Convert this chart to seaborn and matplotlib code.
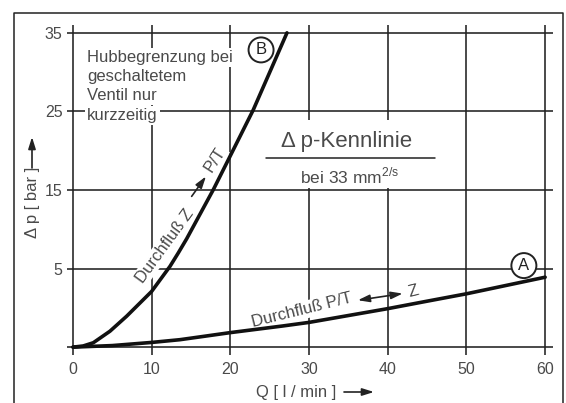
import numpy as np
import pandas as pd
import matplotlib.pyplot as plt
import seaborn as sns
from matplotlib.lines import Line2D
from matplotlib.patches import Rectangle

# -----------------------------
# Data (Q in l/min, Δp in bar as labelled)
# -----------------------------
q_b = [0, 1.3, 2.58, 4.7, 6.82, 10.0, 12.33, 13.38, 14.45, 17.83, 19.95, 22.91, 27.19]
dp_b = [-5, -4.85, -4.44, -2.97, -1.06, 2.1, 5.29, 6.99, 8.8, 15.04, 19.27, 25.2, 35.0]

q_a = [0, 5, 10, 13.6, 16.1, 20, 26.7, 30, 40, 45, 50, 60]
dp_a = [-5, -4.8, -4.4, -4.05, -3.7, -3.15, -2.3, -1.85, -0.1, 0.85, 1.79, 3.9]

x_ticks = [0, 10, 20, 30, 40, 50, 60]
y_ticks = [-5, 5, 15, 25, 35]
y_tick_labels = ["", "5", "15", "25", "35"]

note_lines = ["Hubbegrenzung bei", "geschaltetem", "Ventil nur", "kurzzeitig"]
note_baselines = [31.27, 28.91, 26.41, 23.95]

# -----------------------------
# Style
# -----------------------------
sns.set_style("white")
plt.rcParams["font.family"] = ["Liberation Sans", "DejaVu Sans"]
plt.rcParams["mathtext.fontset"] = "custom"
plt.rcParams["mathtext.rm"] = "Liberation Sans"

INK = "#222222"
TXT = "#4a4a4a"
W, H = 566, 403

fig = plt.figure(figsize=(W / 100, H / 100), dpi=100)
ax = fig.add_axes([66.7 / W, 48 / H, (553 - 66.7) / W, 330 / H])

df_b = pd.DataFrame({"Q": q_b, "dp": dp_b})
df_a = pd.DataFrame({"Q": q_a, "dp": dp_a})
sns.lineplot(data=df_b, x="Q", y="dp", color="#111111", lw=2.6, ax=ax, zorder=5)
sns.lineplot(data=df_a, x="Q", y="dp", color="#111111", lw=2.6, ax=ax, zorder=5)

ax.set_xlim(-0.8, 61)
ax.set_ylim(-6, 36)
ax.set_xticks(x_ticks)
ax.set_yticks(y_ticks)
ax.set_yticklabels(y_tick_labels)
ax.grid(True, color=INK, lw=1.15)
ax.set_axisbelow(True)
for s in ax.spines.values():
    s.set_visible(False)
ax.tick_params(length=0, labelsize=11.5, labelcolor=TXT)
ax.tick_params(axis="y", pad=3)
ax.tick_params(axis="x", pad=5)
ax.set_xlabel("")
ax.set_ylabel("")

# note in the upper left
box = dict(fc="white", ec="none", pad=1.5)
for line, yb in zip(note_lines, note_baselines):
    ax.text(1.78, yb, line, ha="left", va="baseline", fontsize=12,
            color=TXT, bbox=box, zorder=3)

# circled curve names
circ = dict(boxstyle="circle,pad=0.3", fc="white", ec=INK, lw=1.4)
ax.text(23.9, 32.83, "B", ha="center", va="center", fontsize=12, color=INK, bbox=circ, zorder=6)
ax.text(57.3, 5.38, "A", ha="center", va="center", fontsize=12, color=INK, bbox=circ, zorder=6)

# title block
ax.add_patch(Rectangle((24.0, 15.3), 22.6, 8.6, fc="white", ec="none", zorder=2.5))
ax.text(34.8, 21.14, "Δ p-Kennlinie", ha="center", va="center", fontsize=16, color=TXT, zorder=3)
ax.plot([24.5, 46.0], [19.1, 19.1], color=INK, lw=1.1, zorder=3)
ax.text(35.1, 16.82, r"bei 33 mm$^{\mathrm{2/s}}$", ha="center", va="center",
        fontsize=12.5, color=TXT, zorder=3)

# curve labels
arrow = dict(arrowstyle="-|>,head_length=0.7,head_width=0.22", color=INK, lw=1.2,
             shrinkA=0, shrinkB=0)
wbox = dict(fc="white", ec="none", pad=1)
ax.text(11.69, 7.92, "Durchfluß Z", rotation=54, rotation_mode="anchor", ha="center",
        va="center", fontsize=12, color=TXT, bbox=wbox, zorder=3)
ax.annotate("", xy=(16.9, 16.73), xytext=(15.08, 14.19), arrowprops=arrow, zorder=3)
ax.text(18.04, 18.85, "P/T", rotation=57, rotation_mode="anchor", ha="center",
        va="center", fontsize=12, color=TXT, bbox=wbox, zorder=3)

ax.text(29.1, -0.34, "Durchfluß P/T", rotation=14, rotation_mode="anchor", ha="center",
        va="center", fontsize=12, color=TXT, bbox=wbox, zorder=3)
ax.annotate("", xy=(41.9, 1.82), xytext=(36.2, 0.97),
            arrowprops=dict(arrow, arrowstyle="<|-|>,head_length=0.7,head_width=0.22"), zorder=3)
ax.text(43.2, 2.08, "Z", rotation=14, rotation_mode="anchor", ha="center",
        va="center", fontsize=12, color=TXT, bbox=wbox, zorder=3)

# axis labels with arrows
fig.text(32 / W, 1 - 202 / H, "Δ p [ bar ]", rotation=90, ha="center", va="center",
         fontsize=12, color=TXT)
fig.text(296 / W, 1 - 392 / H, "Q [ l / min ]", ha="center", va="center",
         fontsize=12, color=TXT)
ax.annotate("", xy=(32 / W, 1 - 137 / H), xytext=(32 / W, 1 - 168 / H), xycoords="figure fraction",
            textcoords="figure fraction", arrowprops=arrow)
ax.annotate("", xy=(374 / W, 1 - 392 / H), xytext=(344 / W, 1 - 392 / H), xycoords="figure fraction",
            textcoords="figure fraction", arrowprops=arrow)

# outer frame (open at the bottom)
fig.add_artist(Line2D([14 / W, 14 / W, 563 / W, 563 / W], [0, 1 - 13 / H, 1 - 13 / H, 0],
                      transform=fig.transFigure, color=INK, lw=1.1))

fig.savefig("out.png", dpi=100)
